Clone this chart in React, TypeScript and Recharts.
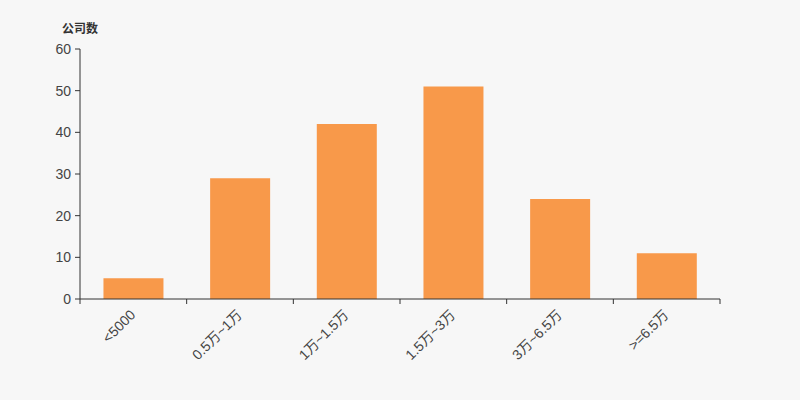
import { BarChart, Bar, XAxis, YAxis } from "recharts";

const categories = ["<5000", "0.5万~1万", "1万~1.5万", "1.5万~3万", "3万~6.5万", ">=6.5万"];
const counts = [5, 29, 42, 51, 24, 11];
const yTicks = [0, 10, 20, 30, 40, 50, 60];
const boundaryTicks = [0, 1, 2, 3, 4, 5, 6];

const data = categories.map((name, i) => ({ name, value: counts[i], pos: i + 0.5 }));

const FONT = "'Liberation Sans', Arial, 'Noto Sans CJK SC', sans-serif";

const RotatedTick = (props: any) => {
  const { x, y, payload } = props;
  return (
    <g transform={`translate(${x},${y + 5})`}>
      <text
        x={0}
        y={0}
        dy={4}
        textAnchor="end"
        transform="rotate(-45)"
        fontSize={14}
        fill="#444"
        fontFamily={FONT}
      >
        {payload.value}
      </text>
    </g>
  );
};

const EmptyTick = () => <g />;

const App = () => {
  return (
    <div style={{ position: "absolute", left: 0, top: 0, width: 800, height: 400, background: "#f7f7f7" }}>
      <div
        style={{
          position: "absolute",
          left: 62,
          top: 19,
          fontSize: 12,
          fontWeight: "bold",
          color: "#333",
          fontFamily: FONT,
        }}
      >
        公司数
      </div>
      <BarChart
        width={800}
        height={400}
        data={data}
        margin={{ top: 49, right: 80, bottom: 0, left: 0 }}
        barCategoryGap="22%"
      >
        <XAxis
          xAxisId="a"
          type="number"
          dataKey="pos"
          domain={[0, 6]}
          ticks={boundaryTicks}
          interval={0}
          tick={<EmptyTick />}
          tickLine={{ stroke: "#333" }}
          axisLine={{ stroke: "#333" }}
          tickSize={5}
          height={1}
        />
        <XAxis
          dataKey="name"
          xAxisId="b"
          tickLine={false}
          axisLine={false}
          interval={0}
          tick={<RotatedTick />}
          height={100}
        />
        <YAxis
          width={80}
          domain={[0, 60]}
          ticks={yTicks}
          interval={0}
          tickLine={{ stroke: "#333" }}
          axisLine={{ stroke: "#333" }}
          tickSize={5}
          tickMargin={4}
          tick={{ fontSize: 14, fill: "#444", fontFamily: FONT }}
        />
        <Bar dataKey="value" xAxisId="b" fill="#f8994a" isAnimationActive={false} />
      </BarChart>
    </div>
  );
};

export default App;
